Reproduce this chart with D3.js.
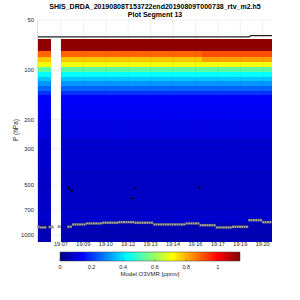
<!DOCTYPE html>
<html>
<head>
<meta charset="utf-8">
<script src="https://cdn.jsdelivr.net/npm/d3@7"></script>
<style>
  body { margin: 0; background: #fff; }
  text { font-family: "Liberation Sans", Arial, sans-serif; fill: #262626; }
</style>
</head>
<body>
<div id="chart"></div>
<script>
//svg size
const width = 300;
const height = 300;
const plot = { left: 38, right: 272, top: 20, bottom: 242 };

//title
const titleLines = [
  "SHIS_DRDA_20190808T153722end20190809T000738_rtv_m2.h5",
  "Plot Segment 13",
];

//time axis (HH:MM:SS)
const timeDomain = ["19:06:13", "19:21:21"];
const timeTicks = ["19:07:42", "19:09:09", "19:10:36", "19:12:03", "19:13:30",
  "19:14:57", "19:16:24", "19:17:51", "19:19:18", "19:20:45"];

//pressure axis
const pDomain = [50, 1100];
const pTicks = [50, 100, 200, 300, 500, 700, 1000];

//retrieval layers (edges in hPa) and ozone per layer [ppmv]
const layerEdges = [65.3, 77.0, 83.2, 89.8, 95.9, 102.8, 110.3, 116.6, 125.0,
  134.0, 141.7, 160, 200, 260, 400, 700, 850, 1100];
const o3West = [1.12, 0.886, 0.775, 0.70, 0.53, 0.43, 0.365, 0.31, 0.254, 0.20,
  0.14, 0.13, 0.11, 0.09, 0.08, 0.085, 0.06];
const o3East = [1.12, 0.91, 0.82, 0.70, 0.53, 0.43, 0.365, 0.31, 0.254, 0.20,
  0.14, 0.13, 0.11, 0.09, 0.08, 0.085, 0.06];

//profile segments: start, end, which profile
const segStart = ["19:06:13", "19:07:41", "19:16:48"];
const segEnd = ["19:07:05", "19:16:48", "19:21:21"];
const segProfile = ["west", "west", "east"];

//surface pressure, one per scan (null = missing)
const sfcStart = "19:06:14";
const sfcStep = 9; // seconds
const sfcP = [
  890, 898, 898, 898, null, 893, 893, null, null, 890,
  null, null, null, 891, 891, 861, 861, 861, 861, 861,
  861, 849, 849, 849, 849, 849, 849, 849, 842, 842,
  842, 842, 842, 842, 842, 834, 834, 834, 834, 834,
  834, 834, 842, 842, 842, 842, 842, 842, 842, 842,
  861, 861, 861, 861, 861, 861, 861, 861, 861, 861,
  861, 861, 861, 861, 849, 849, 849, 849, 849, 849,
  870, 870, 870, 870, 870, 870, 870, 898, 898, 898,
  898, 898, 898, 898, 891, 891, 891, 891, 891, 891,
  891, 811, 811, 811, 811, 811, 811, 834, 834, 834,
  834,
];

//black markers
const cloudT = ["19:08:13", "19:08:24", "19:12:20", "19:12:30", "19:16:39"];
const cloudP = [517, 539, 597, 521, 517];

//top line
const topLineT = ["19:06:13", "19:19:52", "19:19:58", "19:21:21"];
const topLineP = [63.3, 63.3, 62.2, 62.2];

//colorbar
const cbDomain = [0, 1.14];
const cbTicks = [0, 0.2, 0.4, 0.6, 0.8, 1];
const cbLabel = "Model O3VMR [ppmv]";

const parseT = d3.timeParse("%H:%M:%S");

//jet colormap
function jet(t) {
  const c = (v) => Math.max(0, Math.min(1, v));
  const r = c(1.5 - Math.abs(4 * t - 3));
  const g = c(1.5 - Math.abs(4 * t - 2));
  const b = c(1.5 - Math.abs(4 * t - 1));
  return d3.rgb(r * 255, g * 255, b * 255).toString();
}

const x = d3.scaleTime()
    .domain(timeDomain.map(parseT))
    .range([plot.left, plot.right]);
const y = d3.scaleLog()
    .domain(pDomain)
    .range([plot.top, plot.bottom]);
const color = d3.scaleSequential(jet).domain(cbDomain);

const svg = d3.select("#chart")
    .append("svg")
    .attr("width", width)
    .attr("height", height)
    .style("background", "#fff");

//title
svg.append("g")
    .selectAll("text")
    .data(titleLines)
    .join("text")
    .attr("x", 155)
    .attr("y", (d, i) => 8.5 + i * 8.5)
    .attr("text-anchor", "middle")
    .attr("font-size", 7)
    .attr("font-weight", "bold")
    .style("fill", "#000")
    .text((d) => d);

//heatmap
const profiles = { west: o3West, east: o3East };
const cells = [];
segStart.forEach((s, si) => {
  const vals = profiles[segProfile[si]];
  vals.forEach((v, li) => {
    cells.push({
      t0: parseT(s), t1: parseT(segEnd[si]),
      p0: layerEdges[li], p1: layerEdges[li + 1], v,
    });
  });
});

svg.append("g")
    .attr("shape-rendering", "crispEdges")
    .selectAll("rect")
    .data(cells)
    .join("rect")
    .attr("x", (d) => x(d.t0))
    .attr("y", (d) => y(d.p0))
    .attr("width", (d) => x(d.t1) - x(d.t0))
    .attr("height", (d) => y(d.p1) - y(d.p0) + 0.3)
    .attr("fill", (d) => color(d.v));

//grid
const gGrid = svg.append("g")
    .attr("stroke", "#262626")
    .attr("stroke-opacity", 0.12)
    .attr("stroke-width", 0.6);
gGrid.selectAll("line.v")
    .data(timeTicks)
    .join("line")
    .attr("class", "v")
    .attr("x1", (d) => x(parseT(d)))
    .attr("x2", (d) => x(parseT(d)))
    .attr("y1", plot.top)
    .attr("y2", plot.bottom);
gGrid.selectAll("line.h")
    .data(pTicks)
    .join("line")
    .attr("class", "h")
    .attr("x1", plot.left)
    .attr("x2", plot.right)
    .attr("y1", (d) => y(d))
    .attr("y2", (d) => y(d));

//top line
svg.append("path")
    .datum(topLineT.map((t, i) => ({ t: parseT(t), p: topLineP[i] })))
    .attr("fill", "none")
    .attr("stroke", "#222")
    .attr("stroke-width", 1.2)
    .attr("d", d3.line().x((d) => x(d.t)).y((d) => y(d.p)));

//surface dots
const sfc = sfcP
    .map((p, i) => ({ t: d3.timeSecond.offset(parseT(sfcStart), i * sfcStep), p }))
    .filter((d) => d.p !== null);
svg.append("g")
    .selectAll("rect")
    .data(sfc)
    .join("rect")
    .attr("x", (d) => x(d.t) - 1.1)
    .attr("y", (d) => y(d.p) - 1.1)
    .attr("width", 2.2)
    .attr("height", 2.2)
    .attr("fill", "#a8a8a8")
    .attr("stroke", "#555")
    .attr("stroke-width", 0.35);

//cloud markers
svg.append("g")
    .selectAll("rect")
    .data(cloudT.map((t, i) => ({ t: parseT(t), p: cloudP[i] })))
    .join("rect")
    .attr("x", (d) => x(d.t) - 1.1)
    .attr("y", (d) => y(d.p) - 1.1)
    .attr("width", 2.2)
    .attr("height", 2.2)
    .attr("fill", "#000");

//left axis line
svg.append("line")
    .attr("x1", plot.left - 0.5)
    .attr("x2", plot.left - 0.5)
    .attr("y1", plot.top)
    .attr("y2", plot.bottom)
    .attr("stroke", "#c8c8c8")
    .attr("stroke-width", 0.6);

//y ticks
svg.append("g")
    .selectAll("text")
    .data(pTicks)
    .join("text")
    .attr("x", 34)
    .attr("y", (d) => y(d))
    .attr("dy", "0.35em")
    .attr("text-anchor", "end")
    .attr("font-size", 5.8)
    .text((d) => d);

svg.append("text")
    .attr("transform", `translate(18,${130}) rotate(-90)`)
    .attr("text-anchor", "middle")
    .attr("font-size", 6.5)
    .text("P (hPa)");

//x ticks
svg.append("g")
    .selectAll("text")
    .data(timeTicks)
    .join("text")
    .attr("x", (d) => x(parseT(d)))
    .attr("y", 246.3)
    .attr("text-anchor", "middle")
    .attr("font-size", 5.6)
    .text((d) => d3.timeFormat("%H:%M")(parseT(d)));

//colorbar
const cb = { x0: 60, x1: 240, y0: 252, y1: 261 };
const cbScale = d3.scaleLinear().domain(cbDomain).range([cb.x0, cb.x1]);
const defs = svg.append("defs");
const grad = defs.append("linearGradient").attr("id", "cbgrad");
grad.selectAll("stop")
    .data(d3.range(0, 1.0001, 1 / 64))
    .join("stop")
    .attr("offset", (d) => d)
    .attr("stop-color", (d) => color(cbDomain[0] + d * (cbDomain[1] - cbDomain[0])));

svg.append("rect")
    .attr("x", cb.x0)
    .attr("y", cb.y0)
    .attr("width", cb.x1 - cb.x0)
    .attr("height", cb.y1 - cb.y0)
    .attr("fill", "url(#cbgrad)")
    .attr("stroke", "#444")
    .attr("stroke-width", 0.5);

svg.append("g")
    .selectAll("line")
    .data(cbTicks)
    .join("line")
    .attr("x1", (d) => cbScale(d))
    .attr("x2", (d) => cbScale(d))
    .attr("y1", cb.y1)
    .attr("y2", cb.y1 - 1.5)
    .attr("stroke", "#333")
    .attr("stroke-width", 0.5);

svg.append("g")
    .selectAll("text")
    .data(cbTicks)
    .join("text")
    .attr("x", (d) => cbScale(d))
    .attr("y", 268.5)
    .attr("text-anchor", "middle")
    .attr("font-size", 5.6)
    .text((d) => d3.format("~g")(d));

svg.append("text")
    .attr("x", 150)
    .attr("y", 276.3)
    .attr("text-anchor", "middle")
    .attr("font-size", 6)
    .text(cbLabel);
</script>
</body>
</html>
